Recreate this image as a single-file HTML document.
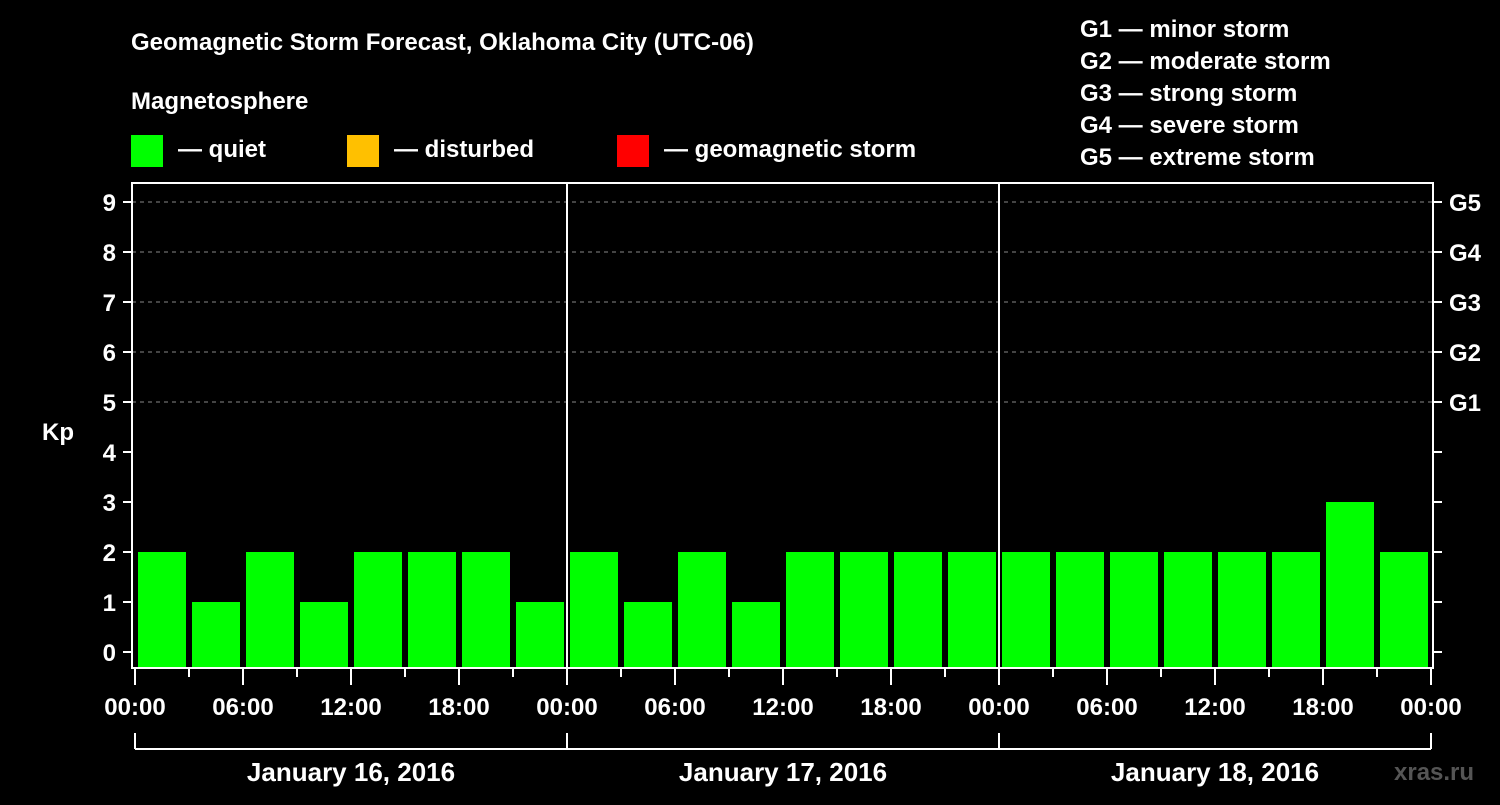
<!DOCTYPE html>
<html><head><meta charset="utf-8"><style>
body{margin:0;background:#000;width:1500px;height:800px;overflow:hidden}
svg text{font-family:"Liberation Sans",Arial,sans-serif;font-weight:bold;fill:#fff}
</style></head><body>
<svg id="c" width="1500" height="800" xmlns="http://www.w3.org/2000/svg">
<text x="131" y="50" font-size="24">Geomagnetic Storm Forecast, Oklahoma City (UTC-06)</text>
<text x="131" y="109" font-size="24">Magnetosphere</text>
<g><rect x="131" y="135" width="32" height="32" fill="#00ff00"/><text x="178" y="157" font-size="24">— quiet</text></g>
<g><rect x="347" y="135" width="32" height="32" fill="#ffc000"/><text x="394" y="157" font-size="24">— disturbed</text></g>
<g><rect x="617" y="135" width="32" height="32" fill="#ff0000"/><text x="664" y="157" font-size="24">— geomagnetic storm</text></g>
<g font-size="24">
<text x="1080" y="37">G1 — minor storm</text>
<text x="1080" y="69">G2 — moderate storm</text>
<text x="1080" y="101">G3 — strong storm</text>
<text x="1080" y="133">G4 — severe storm</text>
<text x="1080" y="165">G5 — extreme storm</text>
</g>
<text x="42" y="440" font-size="24">Kp</text>
<text x="1394" y="780" font-size="24" fill="#555" style="fill:#555">xras.ru</text>
<g id="plot"></g>
</svg>
<script>
const kpValues=[2,1,2,1,2,2,2,1, 2,1,2,1,2,2,2,2, 2,2,2,2,2,2,3,2];
const dayLabels=["January 16, 2016","January 17, 2016","January 18, 2016"];
const hourLabels=["00:00","06:00","12:00","18:00"];
const kpTicks=[0,1,2,3,4,5,6,7,8,9];
const gLabels=["G1","G2","G3","G4","G5"];
const NS="http://www.w3.org/2000/svg";
const L=135,R=1431,T=183,B=667;
const slotW=(R-L)/kpValues.length;
const y=v=>652-50*v;
const x=i=>L+slotW*i;
const g=document.getElementById('plot');
function mk(t,a,p){const e=document.createElementNS(NS,t);for(const k in a)e.setAttribute(k,a[k]);(p||g).appendChild(e);return e;}
function col(v){return v>=5?'#ff0000':v>=4?'#ffc000':'#00ff00';}
// gridlines
for(let v=5;v<=9;v++){const l=mk('line',{x1:132,x2:1432,y1:y(v),y2:y(v),stroke:'#888','stroke-dasharray':'4,4','stroke-width':1});

}
// bars
kpValues.forEach((v,i)=>{const r=mk('rect',{x:x(i)+3,y:y(v),width:slotW-6,height:B-y(v),fill:col(v)});

});
// day separators
for(let d=1;d<dayLabels.length;d++){const l=mk('line',{x1:x(d*8),x2:x(d*8),y1:T,y2:B,stroke:'#fff','stroke-width':2});

}
// frame
const f=mk('rect',{x:132,y:T,width:1301,height:B-T+1,fill:'none',stroke:'#fff','stroke-width':2});


// y ticks
kpTicks.forEach(v=>{mk('line',{x1:123,x2:132,y1:y(v),y2:y(v),stroke:'#fff','stroke-width':2});
mk('line',{x1:1433,x2:1442,y1:y(v),y2:y(v),stroke:'#fff','stroke-width':2});
const t=mk('text',{x:116,y:y(v)+9,'font-size':24,'text-anchor':'end'});t.textContent=v;

});
gLabels.forEach((s,i)=>{const t=mk('text',{x:1449,y:y(5+i)+9,'font-size':24});t.textContent=s;

});
// x ticks
for(let i=0;i<=kpValues.length;i++){const major=i%2===0;
mk('line',{x1:x(i),x2:x(i),y1:669,y2:major?685:677,stroke:'#fff','stroke-width':2});
if(major){const t=mk('text',{x:x(i),y:715,'font-size':24,'text-anchor':'middle'});t.textContent=hourLabels[(i/2)%4];

}}
// day brackets
mk('line',{x1:L,x2:R,y1:749,y2:749,stroke:'#fff','stroke-width':2});
for(let d=0;d<=dayLabels.length;d++)mk('line',{x1:x(d*8),x2:x(d*8),y1:733,y2:749,stroke:'#fff','stroke-width':2});
dayLabels.forEach((s,d)=>{const t=mk('text',{x:x(d*8+4),y:781,'font-size':26,'text-anchor':'middle'});t.textContent=s;

});
</script>
</body></html>
